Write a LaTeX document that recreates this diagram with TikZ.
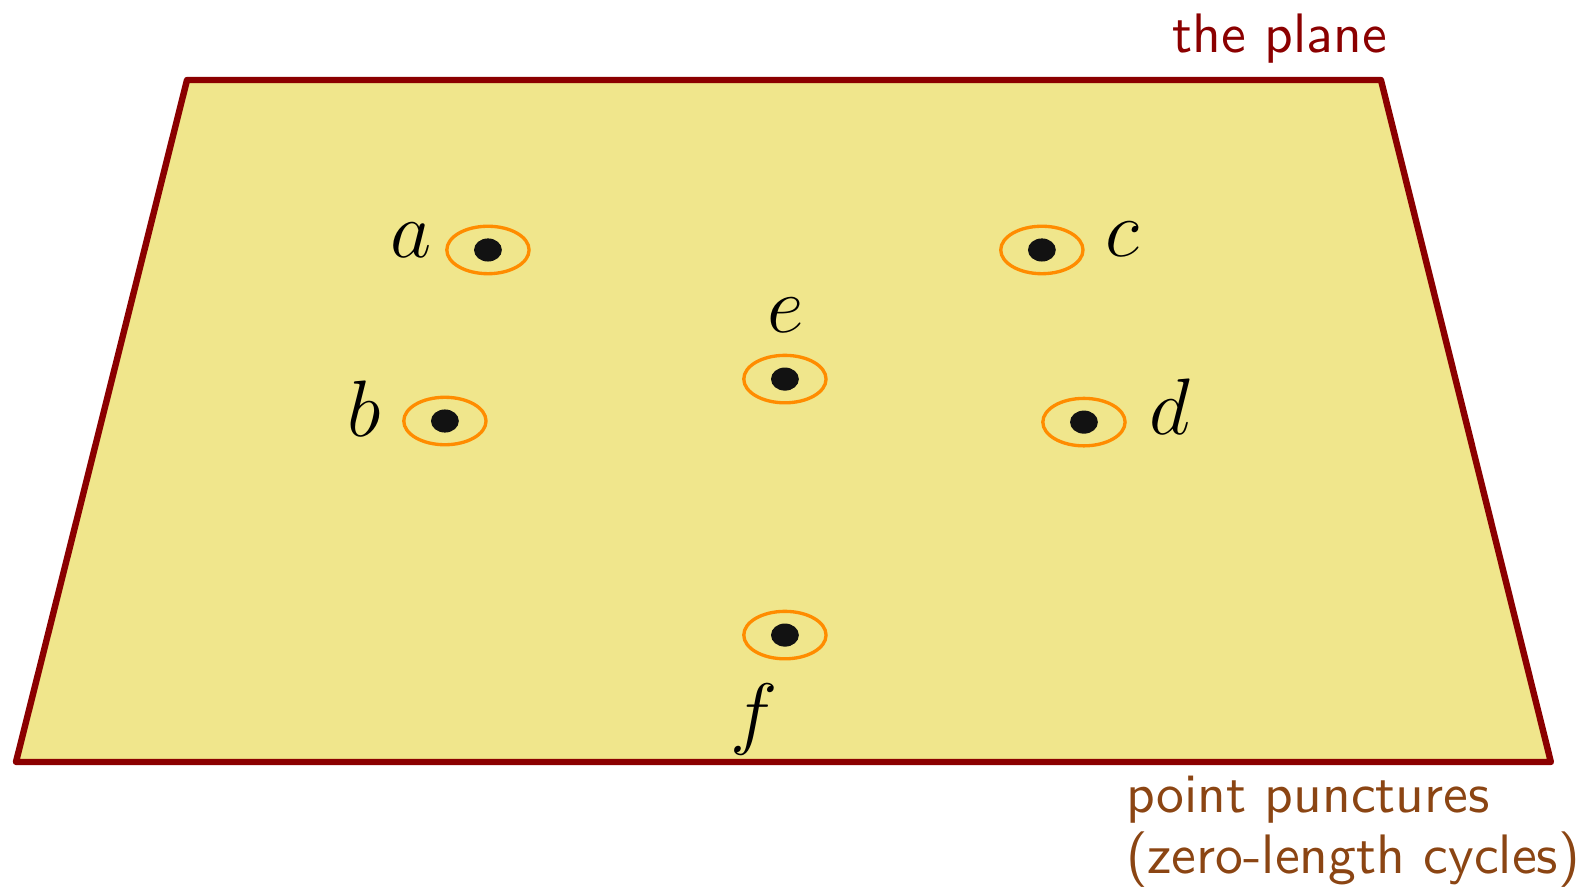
\documentclass[tikz,border=0pt]{standalone}
\usepackage{tikz}
\usetikzlibrary{shapes.geometric,positioning}
\definecolor{planeedge}{RGB}{139,0,0}
\definecolor{planefill}{RGB}{240,230,140}
\definecolor{ringorange}{RGB}{255,140,0}
\definecolor{notebrown}{RGB}{139,69,19}

\begin{document}
\begin{tikzpicture}[
    ring/.style={ellipse, draw=ringorange, line width=0.6pt, minimum width=0.52cm, minimum height=0.30cm, inner sep=0pt},
    ptlabel/.style={font=\Large, inner sep=0pt},
    note/.style={font=\sffamily\fontsize{10}{11}\selectfont, inner sep=0pt}]
    \useasboundingbox (0,0) rectangle (10.005,5.6);

    % the plane
    \draw [planeedge, fill=planefill, line width=1.15pt, line join=round]
        (1.182,5.094) coordinate (tl) -- (8.728,5.094) coordinate (tr)
        -- (9.802,0.784) coordinate (br) -- (0.101,0.784) coordinate (bl) -- cycle;

    % punctures
    \foreach \n/\x/\y in {a/3.084/4.020, b/2.812/2.939, c/6.585/4.020,
                          d/6.851/2.932, e/4.961/3.204, f/4.961/1.586} {
        \node [ring] (\n) at (\x,\y) {};
        \fill [black!93] (\n.center) ellipse (0.088 and 0.073);
    }

    % labels
    \node [ptlabel] (la) at (2.598,4.083) {$a$};
    \node [ptlabel] (lb) at (2.300,3.015) {$b$};
    \node [ptlabel] (lc) at (7.091,4.089) {$c$};
    \node [ptlabel] (ld) at (7.394,3.027) {$d$};
    \node [ptlabel] (le) at (4.968,3.609) {$e$};
    \node [ptlabel] (lf) at (4.765,1.055) {$f$};

    \node [note, text=planeedge, anchor=base] (plane) at (8.090,5.265) {the plane};
    \node [note, text=notebrown, anchor=north west, align=left] (punct) at (7.110,0.702)
        {point punctures\\(zero-length cycles)};
\end{tikzpicture}
\end{document}
